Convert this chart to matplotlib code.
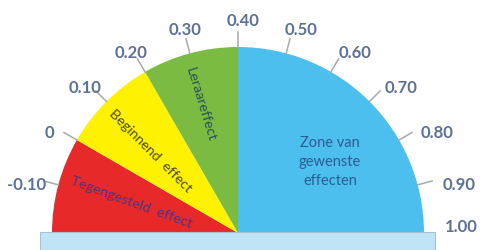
import matplotlib
matplotlib.use("Agg")
import numpy as np
import matplotlib.pyplot as plt
from matplotlib.patches import Wedge, Rectangle

# scale of the barometer
tick_values = [-0.10, 0.0, 0.10, 0.20, 0.30, 0.40, 0.50, 0.60, 0.70, 0.80, 0.90, 1.00]
tick_labels = ["-0.10", "0", "0.10", "0.20", "0.30", "0.40", "0.50",
               "0.60", "0.70", "0.80", "0.90", "1.00"]
# zones: (start, end, colour)
zone_bounds = [(-0.20, 0.0), (0.0, 0.20), (0.20, 0.40), (0.40, 1.00)]
zone_colors = ["#e8292a", "#fff200", "#7bbb42", "#4cbfee"]
zone_names = ["Tegengesteld  effect", "Beginnend  effect", "Leraareffect",
              "Zone van\ngewenste\neffecten"]

CX, CY, R = 238, 17, 186
TICK_C = "#5d7196"


def ang(v):
    # 0.40 on top, 0.1 = 15 degrees
    return 90 - (v - 0.40) * 150


fig = plt.figure(figsize=(4.8, 2.51), dpi=100)
ax = fig.add_axes([0, 0, 1, 1])
ax.set_xlim(0, 480); ax.set_ylim(0, 251)
ax.set_aspect("equal"); ax.set_axis_off()

for (a, b), c in zip(zone_bounds, zone_colors):
    ax.add_patch(Wedge((CX, CY), R, ang(b), ang(a), facecolor=c, edgecolor="none"))

for v, lab in zip(tick_values, tick_labels):
    t = np.deg2rad(ang(v))
    if v < 0.95:
        ax.plot([CX + R * np.cos(t), CX + 201 * np.cos(t)],
                [CY + R * np.sin(t), CY + 201 * np.sin(t)], color="#a9a9a9", lw=1.1)
    lx = min(CX + 5 + 224 * np.cos(t), 461)
    ly = CY + max(213 * np.sin(t) - 6 * abs(np.cos(t)), 7)
    ax.text(lx, ly, lab, ha="center", va="center", fontsize=12, color=TICK_C,
            family="Lato", weight="bold")

ax.add_patch(Rectangle((40, -2), 395, 20, facecolor="#bfe4f6", edgecolor="#a8c2d2", lw=0.8))

ax.text(131, 49, zone_names[0], rotation=-20, ha="center", va="center",
        fontsize=10.3, color="#4a3684", family="Lato", rotation_mode="anchor")
ax.text(151, 100, zone_names[1], rotation=-45, ha="center", va="center",
        fontsize=10.3, color="#4d4d22", family="Lato", rotation_mode="anchor")
ax.text(201, 147, zone_names[2], rotation=-73, ha="center", va="center",
        fontsize=10.3, color="#2c4f62", family="Lato", rotation_mode="anchor")
ax.text(330, 89, zone_names[3], ha="center", va="center", linespacing=1.42,
        fontsize=10.5, color="#2e5c92", family="Lato")

fig.savefig("out.png", dpi=100, facecolor="white")
